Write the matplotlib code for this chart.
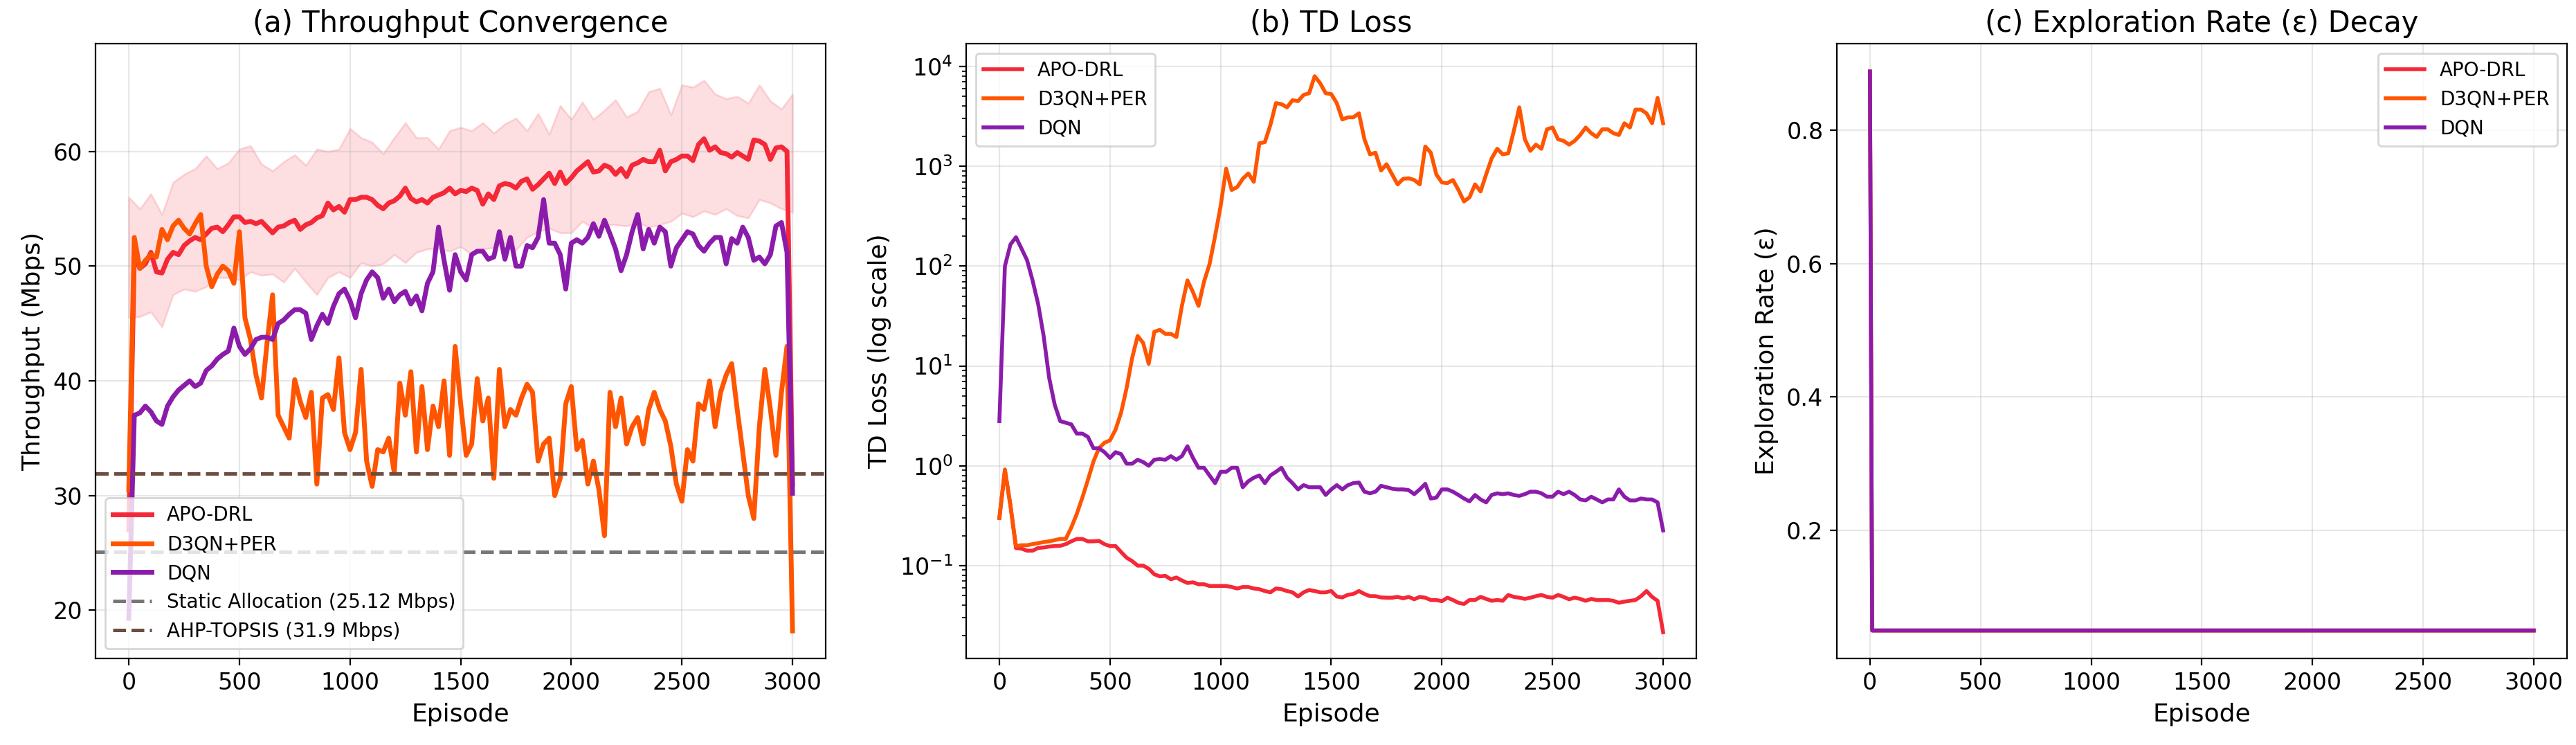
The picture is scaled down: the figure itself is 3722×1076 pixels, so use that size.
import numpy as np
import matplotlib
matplotlib.use("Agg")
import matplotlib.pyplot as plt

# episodes shared by every curve (read every 25 episodes)
episodes = np.arange(0, 3001, 25)

# (a) smoothed throughput, Mbps
apo_thr = [
    27.0, 51.0, 49.8, 50.2, 51.2, 49.5, 49.4, 50.6, 51.2, 51.0,
    51.8, 52.2, 52.5, 52.3, 52.8, 53.3, 53.4, 53.0, 53.6, 54.3,
    54.3, 53.8, 53.9, 53.7, 53.9, 53.4, 52.9, 53.4, 53.5, 53.8,
    54.0, 53.2, 53.6, 53.8, 54.2, 54.4, 55.5, 54.9, 55.2, 54.7,
    55.8, 55.8, 56.0, 56.0, 55.8, 55.3, 55.0, 55.5, 55.7, 56.1,
    56.8, 55.9, 55.6, 55.8, 55.5, 56.0, 56.2, 56.4, 56.8, 56.3,
    56.6, 56.5, 56.8, 56.6, 55.4, 56.3, 55.8, 57.0, 57.2, 57.1,
    56.8, 57.4, 57.6, 56.7, 57.1, 57.6, 58.1, 57.2, 58.2, 57.2,
    57.7, 58.3, 58.7, 59.1, 58.2, 58.3, 58.8, 58.6, 58.0, 58.5,
    57.8, 58.8, 59.0, 59.3, 59.1, 59.1, 60.1, 58.3, 59.1, 59.3,
    59.6, 59.6, 59.2, 60.6, 61.1, 60.1, 60.4, 59.9, 59.8, 59.5,
    59.9, 59.6, 59.3, 61.0, 60.9, 60.6, 59.3, 60.3, 60.4, 60.0,
    31.0,
]
d3qn_thr = [
    30.5, 52.5, 49.8, 50.5, 51.0, 50.8, 53.2, 52.3, 53.5, 54.0,
    53.3, 52.8, 53.7, 54.5, 50.0, 48.2, 49.3, 50.0, 49.6, 48.5,
    53.0, 45.5, 43.6, 40.5, 38.5, 43.3, 47.5, 37.0, 36.0, 35.0,
    40.1, 38.2, 36.8, 39.0, 31.0, 38.5, 38.8, 37.5, 42.0, 35.5,
    34.0, 35.5, 41.0, 33.0, 30.8, 34.0, 33.8, 35.0, 32.0, 39.8,
    37.0, 40.8, 33.8, 39.5, 34.0, 37.8, 36.0, 40.0, 33.5, 43.0,
    38.0, 33.5, 34.5, 40.2, 36.5, 38.5, 31.5, 41.0, 36.0, 37.5,
    37.0, 38.5, 39.7, 39.0, 33.0, 34.5, 35.0, 30.0, 31.5, 38.0,
    39.5, 34.0, 34.8, 31.0, 33.0, 30.5, 26.5, 39.0, 36.0, 38.5,
    34.5, 36.0, 36.8, 34.5, 37.5, 39.0, 37.5, 36.5, 34.3, 31.0,
    29.5, 34.0, 33.0, 38.0, 37.5, 40.0, 36.0, 39.0, 40.5, 41.5,
    37.5, 33.8, 30.0, 28.0, 36.0, 41.0, 37.5, 33.5, 39.0, 43.0,
    18.2,
]
dqn_thr = [
    19.3, 37.0, 37.2, 37.8, 37.3, 36.5, 36.2, 37.8, 38.6, 39.2,
    39.6, 40.0, 39.5, 39.8, 40.9, 41.3, 41.9, 42.3, 42.6, 44.6,
    43.0, 42.3, 42.8, 43.6, 43.8, 43.8, 43.6, 45.0, 45.3, 45.8,
    46.2, 46.2, 45.9, 43.6, 44.8, 45.8, 45.0, 46.5, 47.6, 48.0,
    47.0, 45.5, 47.6, 48.8, 49.5, 49.0, 47.2, 48.0, 46.9, 47.5,
    47.8, 46.7, 47.4, 46.1, 48.5, 49.5, 53.4, 50.5, 47.9, 51.0,
    49.5, 48.8, 51.0, 51.3, 51.3, 50.6, 50.8, 53.0, 50.6, 52.5,
    50.0, 50.0, 51.8, 51.6, 52.5, 55.8, 52.0, 52.0, 51.0, 48.0,
    52.0, 52.3, 52.0, 52.5, 53.7, 52.6, 54.0, 52.8, 51.5, 49.6,
    51.0, 53.0, 54.5, 51.5, 53.2, 52.0, 53.4, 53.0, 50.0, 51.6,
    52.3, 53.0, 52.8, 51.8, 51.3, 52.0, 52.5, 52.5, 50.2, 52.4,
    52.0, 53.4, 52.5, 50.5, 50.8, 50.2, 51.0, 53.5, 53.8, 51.2,
    30.2,
]

# APO-DRL spread band, read every 50 episodes
band_episodes = np.arange(0, 3001, 50)
apo_upper = [
    56.0, 55.0, 56.3, 54.5, 57.3, 58.0, 58.5, 59.6, 58.5, 59.0,
    60.2, 60.5, 58.9, 58.3, 59.1, 59.7, 58.8, 60.2, 60.0, 60.2,
    62.0, 61.2, 60.8, 59.8, 61.2, 62.5, 61.2, 61.2, 60.2, 61.8,
    62.1, 61.8, 62.5, 61.6, 62.4, 62.9, 61.8, 63.3, 61.5, 64.0,
    62.8, 64.3, 62.8, 63.6, 64.5, 63.0, 63.5, 65.2, 65.5, 63.2,
    65.8, 65.6, 66.2, 65.0, 64.6, 64.8, 64.2, 65.8, 64.4, 63.7,
    65.0,
]
apo_lower = [
    45.5, 45.6, 46.0, 44.7, 47.5, 48.0, 47.8, 48.2, 49.0, 49.0,
    48.8, 49.5, 49.2, 49.3, 48.6, 49.8, 48.6, 47.5, 49.0, 49.5,
    49.0, 50.3, 50.0, 50.2, 51.0, 50.3, 51.2, 51.5, 51.5, 51.3,
    51.7, 51.0, 51.5, 51.6, 52.0, 51.4, 52.5, 53.0, 53.3, 52.9,
    52.9, 53.9, 53.3, 53.6, 53.6, 53.5, 53.8, 53.4, 53.6, 53.9,
    54.6, 54.3, 54.8, 54.5, 55.0, 54.4, 54.2, 55.8, 55.5, 55.0,
    54.7,
]

static_alloc = 25.12
ahp_topsis = 31.9

# (b) smoothed TD loss
apo_loss = [
    0.30, 0.90, 0.40, 0.150, 0.148, 0.141, 0.141, 0.150, 0.152, 0.155,
    0.157, 0.158, 0.164, 0.175, 0.185, 0.185, 0.175, 0.175, 0.177, 0.164,
    0.157, 0.157, 0.137, 0.120, 0.111, 0.100, 0.100, 0.093, 0.082, 0.078,
    0.079, 0.073, 0.076, 0.071, 0.067, 0.068, 0.065, 0.065, 0.0625, 0.0625,
    0.0625, 0.0625, 0.061, 0.059, 0.061, 0.061, 0.059, 0.058, 0.0556, 0.054,
    0.059, 0.058, 0.0556, 0.054, 0.049, 0.054, 0.057, 0.0556, 0.054, 0.054,
    0.0556, 0.049, 0.048, 0.051, 0.052, 0.0556, 0.052, 0.0494, 0.0494, 0.048,
    0.0477, 0.0477, 0.0486, 0.047, 0.0486, 0.046, 0.0486, 0.0477, 0.0452, 0.0452,
    0.044, 0.0477, 0.0452, 0.0424, 0.0413, 0.0452, 0.0452, 0.0486, 0.0464, 0.0444,
    0.0452, 0.0444, 0.0508, 0.0486, 0.0477, 0.0464, 0.0477, 0.0494, 0.0508, 0.0486,
    0.0477, 0.0508, 0.0486, 0.046, 0.0477, 0.0464, 0.0444, 0.0464, 0.0452, 0.0452,
    0.0452, 0.0444, 0.0424, 0.0436, 0.0444, 0.0452, 0.0494, 0.0556, 0.0486, 0.0444,
    0.0215,
]
d3qn_loss = [
    0.30, 0.92, 0.40, 0.157, 0.160, 0.160, 0.164, 0.168, 0.172, 0.175,
    0.180, 0.185, 0.185, 0.24, 0.33, 0.48, 0.72, 1.1, 1.5, 1.7,
    1.8, 2.3, 3.4, 6.0, 12, 20, 17, 10.5, 22, 23,
    21, 21, 19.5, 40, 72, 55, 40, 70, 105, 200,
    400, 950, 580, 620, 750, 850, 700, 1700, 1750, 2600,
    4300, 4200, 3900, 4600, 4500, 5200, 5400, 8000, 6800, 5400,
    5300, 4300, 2950, 3100, 3100, 3400, 1870, 1320, 1370, 910,
    1050, 830, 660, 750, 760, 730, 660, 1580, 1370, 830,
    690, 680, 730, 580, 445, 490, 660, 560, 830, 1200,
    1500, 1320, 1350, 2250, 3900, 1870, 1430, 1650, 1500, 2350,
    2450, 1870, 1800, 1650, 1800, 2060, 2450, 2150, 1970, 2350,
    2350, 2150, 2060, 2700, 2450, 3700, 3700, 3400, 2700, 4850,
    2700,
]
dqn_loss = [
    2.8, 100, 165, 195, 150, 115, 72, 42, 20, 7.6,
    4.1, 2.8, 2.7, 2.6, 2.1, 2.1, 1.95, 1.5, 1.5, 1.37,
    1.2, 1.37, 1.31, 1.05, 1.05, 1.15, 1.09, 1.0, 1.15, 1.17,
    1.15, 1.25, 1.15, 1.25, 1.57, 1.2, 0.955, 0.955, 0.80, 0.67,
    0.87, 0.87, 0.955, 0.955, 0.61, 0.70, 0.76, 0.80, 0.67, 0.80,
    0.87, 0.955, 0.76, 0.67, 0.58, 0.64, 0.61, 0.61, 0.61, 0.51,
    0.58, 0.64, 0.58, 0.64, 0.67, 0.68, 0.55, 0.53, 0.55, 0.63,
    0.61, 0.59, 0.58, 0.58, 0.57, 0.52, 0.58, 0.66, 0.47, 0.48,
    0.58, 0.58, 0.55, 0.51, 0.47, 0.44, 0.51, 0.46, 0.43, 0.51,
    0.53, 0.52, 0.53, 0.51, 0.50, 0.52, 0.55, 0.55, 0.53, 0.49,
    0.49, 0.55, 0.52, 0.55, 0.51, 0.46, 0.45, 0.49, 0.46, 0.43,
    0.46, 0.46, 0.58, 0.49, 0.45, 0.45, 0.47, 0.46, 0.46, 0.43,
    0.225,
]

# (c) epsilon schedule (same for all three agents)
eps_episodes = [0, 10, 3000]
eps_values = [0.888, 0.05, 0.05]

methods = ["APO-DRL", "D3QN+PER", "DQN"]
colors = {"APO-DRL": "#F42837", "D3QN+PER": "#FF5500", "DQN": "#8B1CAB"}

fig, axes = plt.subplots(1, 3, figsize=(18.615, 5.38), dpi=200)
fig.subplots_adjust(left=0.0371, right=0.9962, bottom=0.1162, top=0.9415, wspace=0.1924)

# (a) throughput
ax = axes[0]
ax.fill_between(band_episodes, apo_lower, apo_upper, color=colors["APO-DRL"], alpha=0.15)
ax.plot(episodes, apo_thr, color=colors["APO-DRL"], lw=2.5, label="APO-DRL")
ax.plot(episodes, d3qn_thr, color=colors["D3QN+PER"], lw=2.5, label="D3QN+PER")
ax.plot(episodes, dqn_thr, color=colors["DQN"], lw=2.5, label="DQN")
ax.axhline(static_alloc, color="#777777", ls="--", lw=1.8,
           label=f"Static Allocation ({static_alloc} Mbps)")
ax.axhline(ahp_topsis, color="#6D4C41", ls="--", lw=1.8,
           label=f"AHP-TOPSIS ({ahp_topsis} Mbps)")
ax.set_ylim(15.8, 69.4)
ax.set_title("(a) Throughput Convergence", fontsize=15)
ax.set_xlabel("Episode", fontsize=13)
ax.set_ylabel("Throughput (Mbps)", fontsize=13)
ax.legend(loc="lower left", fontsize=10)

# (b) TD loss
ax = axes[1]
ax.plot(episodes, apo_loss, color=colors["APO-DRL"], lw=2, label="APO-DRL")
ax.plot(episodes, d3qn_loss, color=colors["D3QN+PER"], lw=2, label="D3QN+PER")
ax.plot(episodes, dqn_loss, color=colors["DQN"], lw=2, label="DQN")
ax.set_yscale("log")
ax.set_ylim(10 ** -1.93, 10 ** 4.23)
ax.set_title("(b) TD Loss", fontsize=15)
ax.set_xlabel("Episode", fontsize=13)
ax.set_ylabel("TD Loss (log scale)", fontsize=13)
ax.legend(loc="upper left", fontsize=10)

# (c) exploration rate
ax = axes[2]
for m in methods:
    ax.plot(eps_episodes, eps_values, color=colors[m], lw=2, label=m)
ax.set_title("(c) Exploration Rate (ε) Decay", fontsize=15)
ax.set_xlabel("Episode", fontsize=13)
ax.set_ylabel("Exploration Rate (ε)", fontsize=13)
ax.legend(loc="upper right", fontsize=10)

for ax in axes:
    ax.grid(True, alpha=0.3)
    ax.tick_params(labelsize=12)
    ax.set_xticks([0, 500, 1000, 1500, 2000, 2500, 3000])

fig.savefig("out.png", dpi=200)
